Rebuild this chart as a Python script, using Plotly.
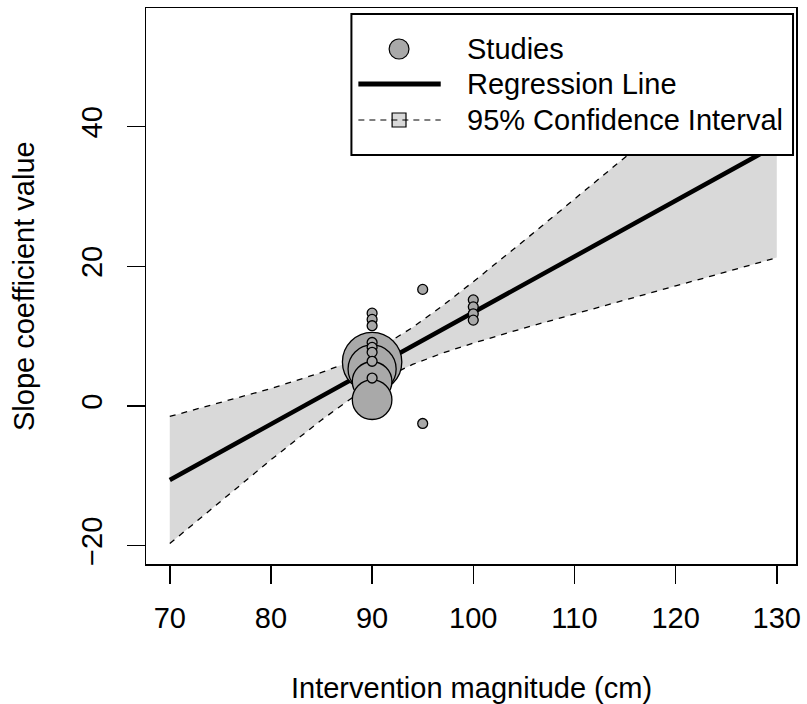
import plotly.graph_objects as go

# ---- data ----
study_x = [90, 90, 90, 90, 90, 90, 90, 90, 90, 90, 90, 90, 95, 95, 100, 100, 100, 100]
study_y = [6.3, 5.3, 3.5, 0.9, 13.3, 12.4, 11.5, 9.1, 8.4, 7.7, 6.4, 4.0, 16.7, -2.5, 15.2, 14.2, 13.2, 12.3]
study_weight = [36, 23.6, 16, 16, 1, 1, 1, 1, 1, 1, 1, 1, 1, 1, 1, 1, 1, 1]

reg_x = [70, 130]
reg_y = [-10.6, 37.4]

ci_x = [70, 75, 80, 85, 88, 91, 94, 97, 100, 105, 110, 115, 120, 125, 130]
ci_upper = [-1.5, 0.45, 2.5, 4.8, 6.45, 8.55, 11.25, 14.4, 17.8, 23.65, 29.6, 35.6, 41.6, 47.6, 53.55]
ci_lower = [-19.7, -13.65, -7.7, -2.0, 1.15, 3.85, 5.95, 7.6, 9.0, 11.15, 13.2, 15.2, 17.2, 19.2, 21.25]

x_ticks = [70, 80, 90, 100, 110, 120, 130]
y_ticks = [-20, 0, 20, 40]

x_title = "Intervention magnitude (cm)"
y_title = "Slope coefficient value"
legend_names = ["Studies", "Regression Line", "95% Confidence Interval"]

FONT = "Liberation Sans, Arial, sans-serif"
SHADE = "#D9D9D9"
PT_FILL = "#A9A9A9"
FS = 29

# plot-area geometry (pixels)
W, H = 807, 704
L, R, T, B = 146, 6, 8, 140
PW, PH = W - L - R, H - T - B


def px(xp):
    return (xp - L) / PW


def py(yp):
    return (H - B - yp) / PH


fig = go.Figure()

# CI band and dashed bounds
fig.add_trace(go.Scatter(x=ci_x, y=ci_lower, mode="lines",
                         line=dict(color="black", width=1.3, dash="6px,6px"),
                         showlegend=False, hoverinfo="skip"))
fig.add_trace(go.Scatter(x=ci_x, y=ci_upper, mode="lines", fill="tonexty",
                         fillcolor=SHADE,
                         line=dict(color="black", width=1.3, dash="6px,6px"),
                         showlegend=False, hoverinfo="skip"))

# regression line
fig.add_trace(go.Scatter(x=reg_x, y=reg_y, mode="lines",
                         line=dict(color="black", width=4.5),
                         showlegend=False))

# studies
fig.add_trace(go.Scatter(x=study_x, y=study_y, mode="markers",
                         marker=dict(size=study_weight, sizemode="area", sizeref=1 / 49.0,
                                     color=PT_FILL, opacity=1,
                                     line=dict(color="black", width=1.3)),
                         showlegend=False))

axis_common = dict(showline=True, linecolor="black", linewidth=1.5, mirror=True,
                   ticks="outside", ticklen=18, tickwidth=1.5, tickcolor="black",
                   showgrid=False, zeroline=False,
                   tickfont=dict(family=FONT, size=FS, color="black"))

fig.update_xaxes(range=[67.65, 131.9], tickvals=x_ticks, ticklabelstandoff=10, **axis_common)
fig.update_yaxes(range=[-22.63, 57.0], tickvals=y_ticks, tickangle=-90, ticklabelstandoff=13,
                 **axis_common)

fig.add_annotation(text=x_title, xref="paper", yref="paper", x=0.5, y=0,
                   xanchor="center", yanchor="middle", yshift=-124, showarrow=False,
                   font=dict(family=FONT, size=FS, color="black"))
fig.add_annotation(text=y_title, xref="paper", yref="paper", x=0, y=0.5,
                   xanchor="center", yanchor="middle", xshift=-122, textangle=-90,
                   showarrow=False, font=dict(family=FONT, size=FS, color="black"))

# ---- legend (drawn like the reference's boxed legend) ----
shapes = []
shapes.append(dict(type="rect", xref="paper", yref="paper",
                   x0=px(353), x1=px(798), y0=py(155), y1=py(14),
                   line=dict(color="black", width=2), fillcolor="white", layer="above"))
row_y = [49, 84, 120]
sym_x0, sym_x1, sym_c = 360, 443, 401
# Studies symbol
shapes.append(dict(type="circle", xref="paper", yref="paper",
                   x0=px(sym_c - 10), x1=px(sym_c + 10), y0=py(row_y[0] + 10), y1=py(row_y[0] - 10),
                   line=dict(color="black", width=1.2), fillcolor=PT_FILL, layer="above"))
# Regression line symbol
shapes.append(dict(type="line", xref="paper", yref="paper",
                   x0=px(sym_x0), x1=px(sym_x1), y0=py(row_y[1]), y1=py(row_y[1]),
                   line=dict(color="black", width=5), layer="above"))
# CI symbol: shaded square + dashed line
shapes.append(dict(type="rect", xref="paper", yref="paper",
                   x0=px(sym_c - 7), x1=px(sym_c + 7), y0=py(row_y[2] + 7), y1=py(row_y[2] - 7),
                   line=dict(color="black", width=1.2), fillcolor=SHADE, layer="above"))
shapes.append(dict(type="line", xref="paper", yref="paper",
                   x0=px(sym_x0), x1=px(sym_x1), y0=py(row_y[2]), y1=py(row_y[2]),
                   line=dict(color="black", width=1.2, dash="6px,5px"), layer="above"))

for name, ry in zip(legend_names, row_y):
    fig.add_annotation(text=name, xref="paper", yref="paper", x=px(467), y=py(ry),
                       xanchor="left", yanchor="middle", showarrow=False,
                       font=dict(family=FONT, size=FS, color="black"))

fig.update_layout(
    width=W, height=H,
    margin=dict(l=L, r=R, t=T, b=B, pad=0),
    paper_bgcolor="white", plot_bgcolor="white",
    font=dict(family=FONT, size=FS, color="black"),
    showlegend=False,
    shapes=shapes,
)

fig.write_html("out.html",
               config={"displayModeBar": False, "staticPlot": True},
               post_script="document.body.style.margin='0';document.body.style.overflow='hidden';")
